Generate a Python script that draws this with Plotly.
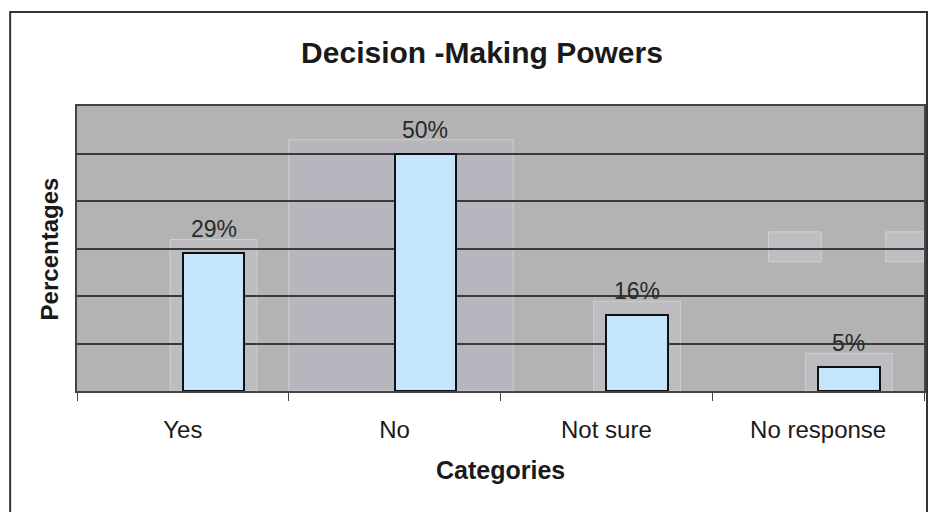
import plotly.graph_objects as go

# Survey results
categories = ["Yes", "No", "Not sure", "No response"]
percentages = [29, 50, 16, 5]
value_labels = ["29%", "50%", "16%", "5%"]

title_text = "Decision -Making Powers"
x_title = "Categories"
y_title = "Percentages"

FONT = "Liberation Sans, Arial, sans-serif"
PLOT_BG = "#b3b3b3"
BAR_FILL = "#c4e5fb"
BAR_W = 0.29      # bar width in category units
BAR_OFF = 0.0     # bars start at the category centre
HALO = 0.06       # padding of the lighter panel behind each bar

fig = go.Figure()
fig.add_trace(go.Bar(
    x=categories,
    y=percentages,
    width=BAR_W,
    offset=BAR_OFF,
    marker=dict(color=BAR_FILL, line=dict(color="#111111", width=2)),
    hoverinfo="skip",
))

shapes = []
# Lighter panels sitting behind each bar
for i, v in enumerate(percentages):
    left = i + BAR_OFF - HALO
    right = i + BAR_OFF + BAR_W + HALO
    fill = "#bdbdc1"
    if categories[i] == "No":
        left, right = i - 0.5, i + 0.56
        fill = "#b7b6bf"
    shapes.append(dict(
        type="rect", xref="x", yref="y", layer="below",
        x0=left, x1=right, y0=0, y1=v + 2.9,
        fillcolor=fill, line=dict(color="#cfcfcf", width=1),
    ))
# Small pale patches on the 30% gridline at the right
for x0, x1 in [(2.765, 3.015), (3.32, 3.5)]:
    shapes.append(dict(
        type="rect", xref="x", yref="y", layer="below",
        x0=x0, x1=x1, y0=27.2, y1=33.5,
        fillcolor="#bdbdc2", line=dict(color="#d2d2d2", width=1),
    ))
# Outer frame of the chart
shapes.append(dict(
    type="rect", xref="paper", yref="paper",
    x0=(10 - 77) / 849, x1=(929 - 77) / 849, y0=-0.45, y1=(391 - 12) / 285,
    line=dict(color="#333333", width=2), fillcolor="rgba(0,0,0,0)",
))

annotations = []
for c, v, t in zip(categories, percentages, value_labels):
    annotations.append(dict(
        x=categories.index(c) + BAR_OFF + BAR_W / 2, xref="x",
        y=v, yref="y", yshift=24, yanchor="middle",
        text=t, showarrow=False,
        font=dict(family=FONT, size=23, color="#2a2a2a"),
    ))
annotations.append(dict(
    x=0.5, xref="paper", y=-0.277, yref="paper",
    text=f"<b>{x_title}</b>", showarrow=False, yanchor="middle",
    font=dict(family=FONT, size=25, color="#1a1a1a"),
))
annotations.append(dict(
    x=-0.032, xref="paper", y=0.5, yref="paper",
    text=f"<b>{y_title}</b>", showarrow=False, textangle=-90,
    xanchor="center", yanchor="middle",
    font=dict(family=FONT, size=24, color="#1a1a1a"),
))

fig.update_layout(
    width=932, height=512,
    margin=dict(l=77, r=6, t=106, b=121),
    paper_bgcolor="white",
    plot_bgcolor=PLOT_BG,
    showlegend=False,
    title=dict(
        text=f"<b>{title_text}</b>",
        x=482 / 932, xanchor="center", y=1 - 52 / 512, yanchor="middle",
        font=dict(family=FONT, size=30, color="#1a1a1a"),
    ),
    xaxis=dict(
        type="category",
        range=[-0.5, 3.5],
        showgrid=False,
        showline=True, linecolor="#444444", linewidth=1.5, mirror=True,
        ticks="outside", tickson="boundaries", ticklen=8, tickcolor="#444444",
        ticklabelstandoff=16,
        tickfont=dict(family=FONT, size=24, color="#1a1a1a"),
    ),
    yaxis=dict(
        range=[0, 60],
        dtick=10,
        showticklabels=False,
        showgrid=True, gridcolor="#3a3a3a", gridwidth=1.5,
        showline=True, linecolor="#444444", linewidth=1.5, mirror=True,
        zeroline=False,
    ),
    shapes=shapes,
    annotations=annotations,
    bargap=0,
)

fig.write_html("out.html")
